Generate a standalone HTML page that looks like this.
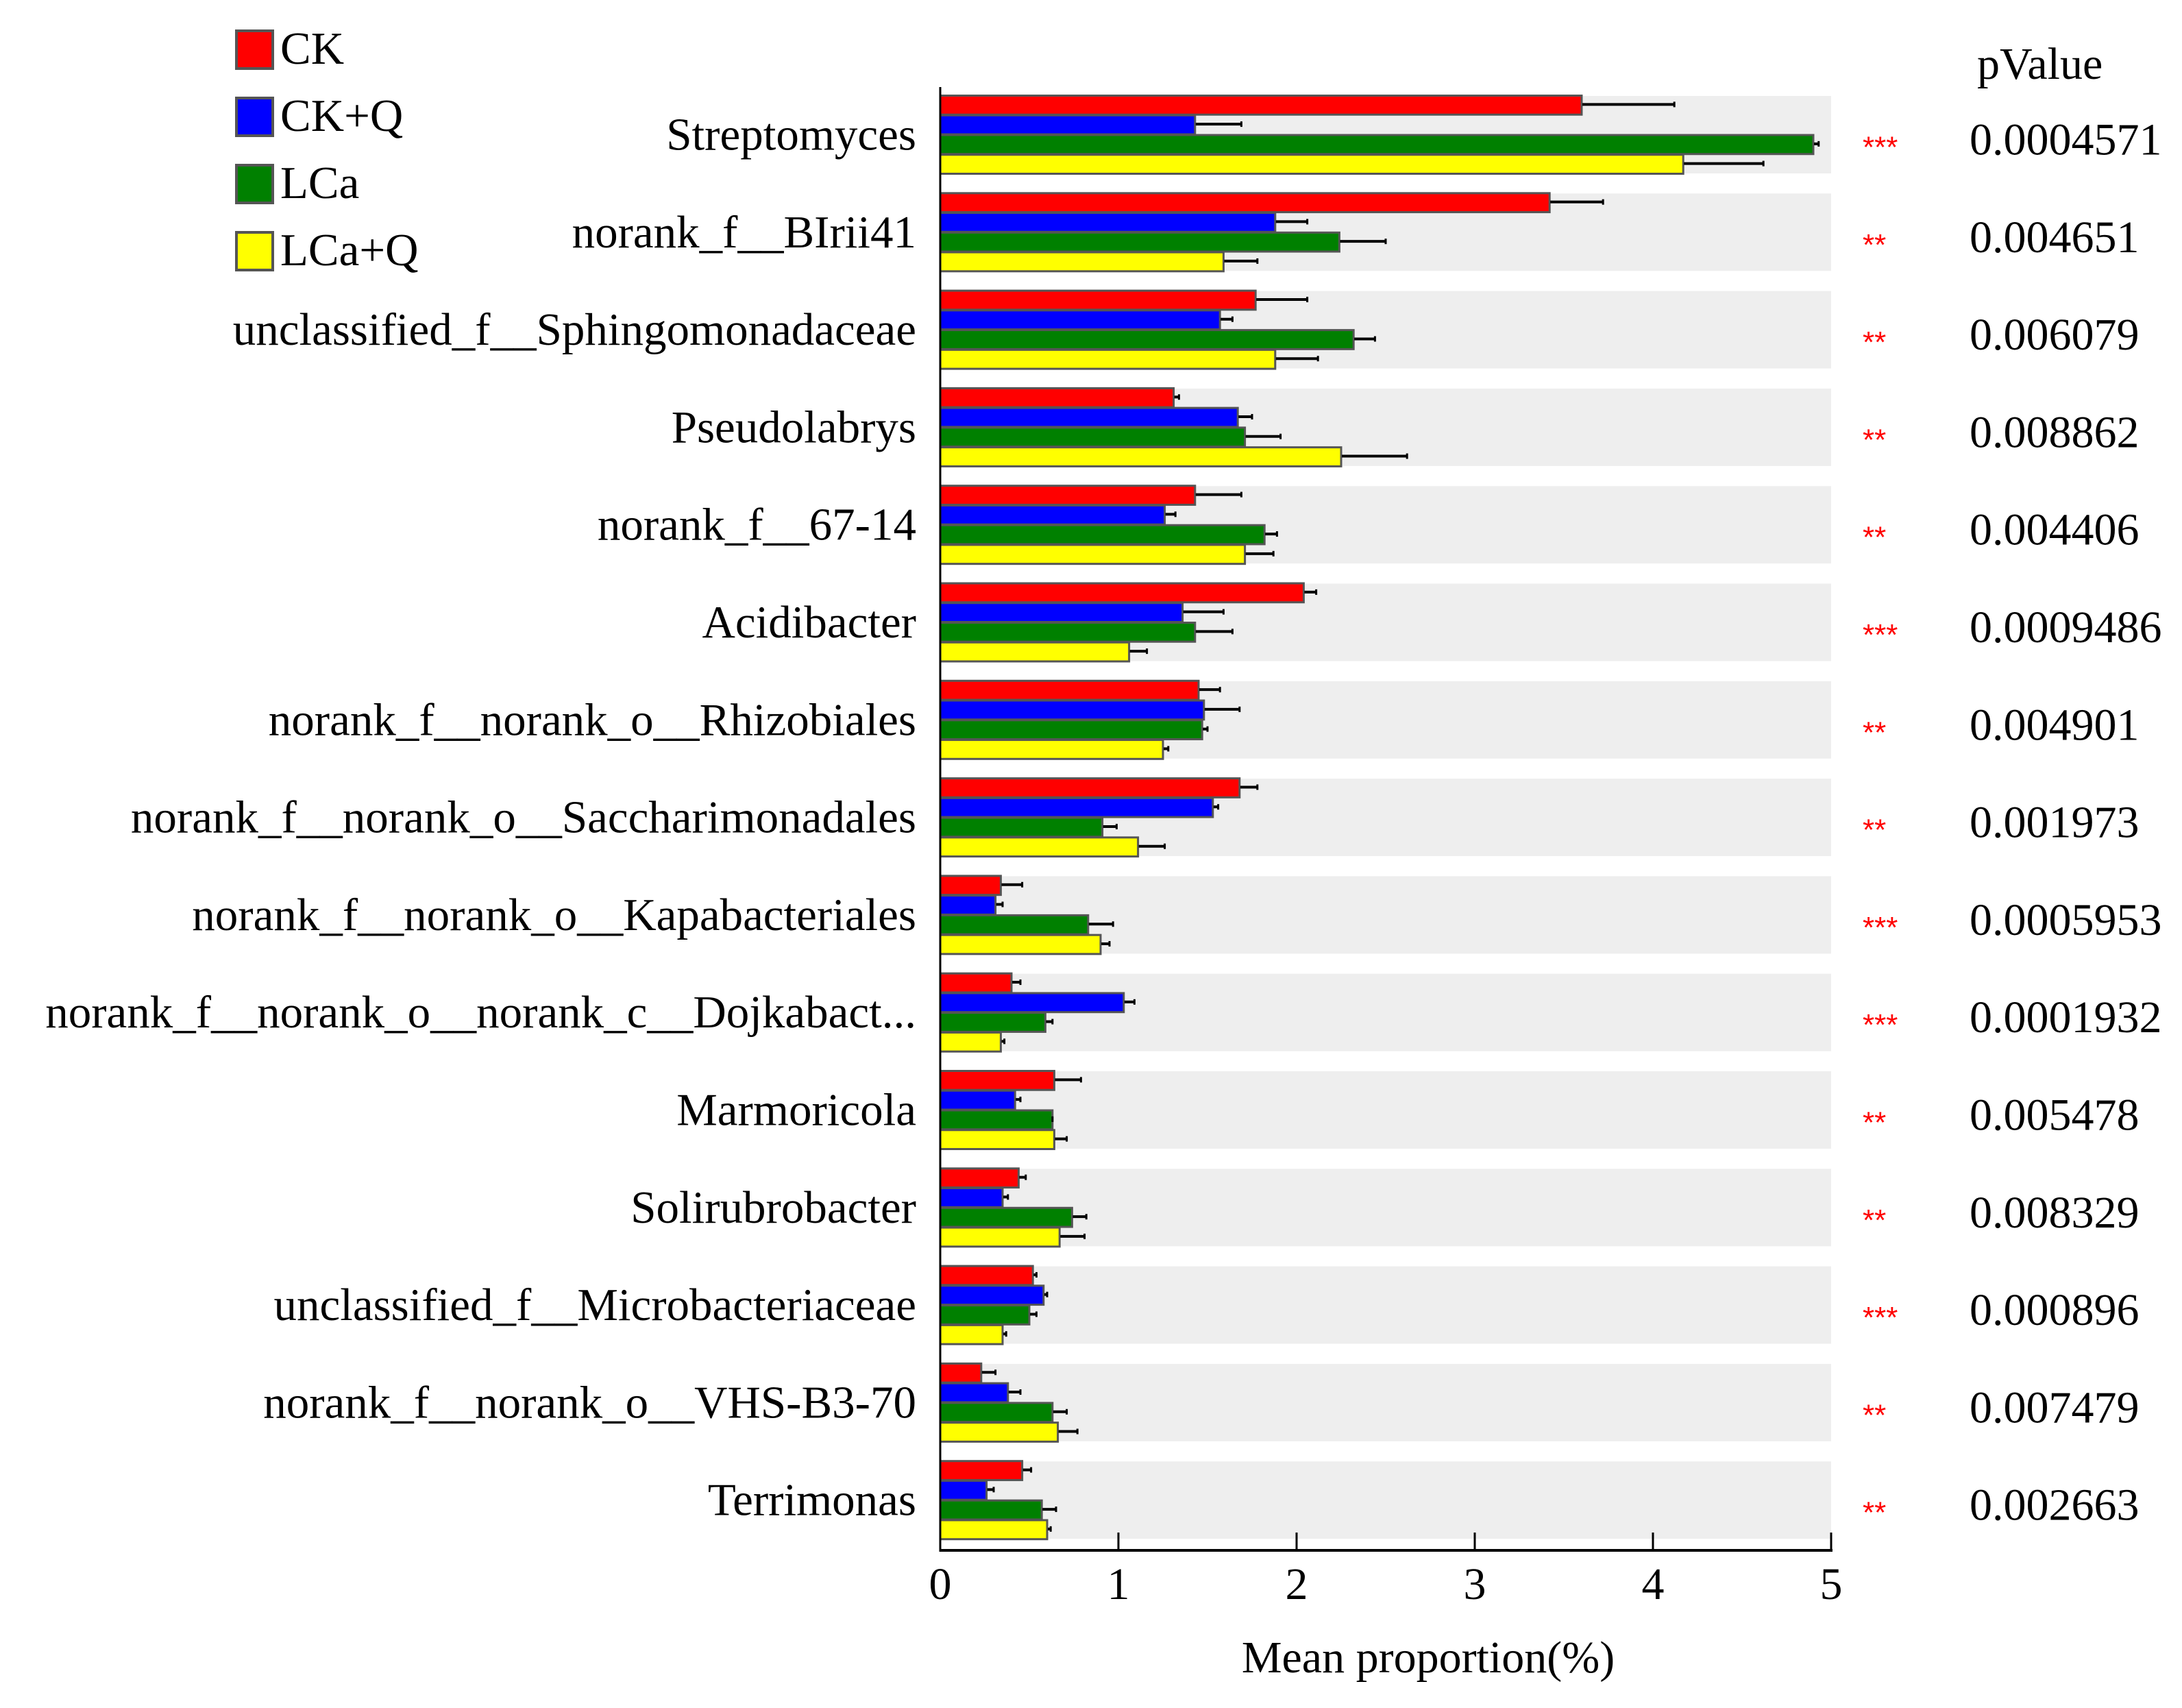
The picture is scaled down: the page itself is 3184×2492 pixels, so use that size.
<!DOCTYPE html>
<html><head><meta charset="utf-8"><style>
html,body{margin:0;padding:0;background:#fff;}
svg{display:block;font-family:"Liberation Serif",serif;}
</style></head><body>
<svg id="chart" width="3184" height="2492" viewBox="0 0 3184 2492" xmlns="http://www.w3.org/2000/svg">
<g id="bands"></g>
<g id="bars"></g>
<g id="labels"></g>
<g id="pvals"></g>
<g id="axis"></g>
<g id="legend"></g>
<text x="2885" y="115" font-size="66">pValue</text>
<text x="2084" y="2440" font-size="66" text-anchor="middle">Mean proportion(%)</text>
</svg>
<script>
const categories = ["Streptomyces","norank_f__BIrii41","unclassified_f__Sphingomonadaceae","Pseudolabrys","norank_f__67-14","Acidibacter","norank_f__norank_o__Rhizobiales","norank_f__norank_o__Saccharimonadales","norank_f__norank_o__Kapabacteriales","norank_f__norank_o__norank_c__Dojkabact...","Marmoricola","Solirubrobacter","unclassified_f__Microbacteriaceae","norank_f__norank_o__VHS-B3-70","Terrimonas"];
const seriesNames = ["CK","CK+Q","LCa","LCa+Q"];
const ck    = [3.60,3.42,1.77,1.31,1.43,2.04,1.45,1.68,0.34,0.40,0.64,0.44,0.52,0.23,0.46];
const ckErr = [4.12,3.72,2.06,1.34,1.69,2.11,1.57,1.78,0.46,0.45,0.79,0.48,0.54,0.31,0.51];
const ckq    = [1.43,1.88,1.57,1.67,1.26,1.36,1.48,1.53,0.31,1.03,0.42,0.35,0.58,0.38,0.26];
const ckqErr = [1.69,2.06,1.64,1.75,1.32,1.59,1.68,1.56,0.35,1.09,0.45,0.38,0.60,0.45,0.30];
const lca    = [4.90,2.24,2.32,1.71,1.82,1.43,1.47,0.91,0.83,0.59,0.63,0.74,0.50,0.63,0.57];
const lcaErr = [4.93,2.50,2.44,1.91,1.89,1.64,1.50,0.99,0.97,0.63,0.63,0.82,0.54,0.71,0.65];
const lcaq    = [4.17,1.59,1.88,2.25,1.71,1.06,1.25,1.11,0.90,0.34,0.64,0.67,0.35,0.66,0.60];
const lcaqErr = [4.62,1.78,2.12,2.62,1.87,1.16,1.28,1.26,0.95,0.36,0.71,0.81,0.37,0.77,0.62];
const pValues = ["0.0004571","0.004651","0.006079","0.008862","0.004406","0.0009486","0.004901","0.001973","0.0005953","0.0001932","0.005478","0.008329","0.000896","0.007479","0.002663"];
const stars = ["***","**","**","**","**","***","**","**","***","***","**","**","***","**","**"];
const xTicks = [0,1,2,3,4,5];

const colors = ["#ff0000","#0000ff","#008000","#ffff00"];
const NS = "http://www.w3.org/2000/svg";
const X0 = 1372, X1 = 2672, XMAX = 5;
const x = v => X0 + (v / XMAX) * (X1 - X0);
const Y0 = 140, PITCH = 142.3, BAND = 113, BARH = 28.75;
const y = i => Y0 + i * PITCH;
function mk(tag, attrs, parent) {
  const e = document.createElementNS(NS, tag);
  for (const k in attrs) e.setAttribute(k, attrs[k]);
  parent.appendChild(e);
  return e;
}
const gB = document.getElementById('bands'), gBars = document.getElementById('bars'),
      gL = document.getElementById('labels'), gP = document.getElementById('pvals'),
      gA = document.getElementById('axis'), gLg = document.getElementById('legend');
const vals = [ck, ckq, lca, lcaq], errs = [ckErr, ckqErr, lcaErr, lcaqErr];
const keys = ["ck","ckq","lca","lcaq"];
categories.forEach((c, i) => {
  const band = mk('rect', {x: X0, y: y(i), width: X1 - X0, height: BAND, fill: '#eeeeee'}, gB);
  
  
  for (let s = 0; s < 4; s++) {
    const by = y(i) - 2 + s * BARH;
    const r = mk('rect', {x: X0, y: by + 1.5, width: x(vals[s][i]) - X0, height: BARH - 1, fill: colors[s], stroke: '#555555', 'stroke-width': 3}, gBars);
    
    
    const cy = by + BARH / 2;
    const el = mk('line', {x1: x(vals[s][i]) + 1, x2: x(errs[s][i]), y1: cy, y2: cy, stroke: '#000', 'stroke-width': 4}, gBars);
    
    
    const cap = mk('line', {x1: x(errs[s][i]), x2: x(errs[s][i]), y1: cy - 4, y2: cy + 4, stroke: '#000', 'stroke-width': 3}, gBars);
    
    
  }
  const cy = y(i) + BAND / 2;
  const t = mk('text', {x: 1337, y: cy + 22, 'font-size': 67, 'text-anchor': 'end'}, gL);
  t.textContent = c;
  
  
  const st = mk('text', {x: 2718, y: cy + 33, 'font-size': 44, fill: '#ff0000', 'font-family': 'Liberation Sans, sans-serif'}, gP);
  st.textContent = stars[i];
  
  
  const pv = mk('text', {x: 2874, y: cy + 29, 'font-size': 66}, gP);
  pv.textContent = pValues[i];
  
  
});
const yAxis = mk('line', {x1: X0, x2: X0, y1: 127, y2: 2264, stroke: '#000', 'stroke-width': 3}, gA);


const xAxis = mk('line', {x1: X0 - 1, x2: X1 + 2, y1: 2262, y2: 2262, stroke: '#000', 'stroke-width': 4}, gA);


xTicks.forEach(v => {
  const tk = mk('line', {x1: x(v), x2: x(v), y1: 2236, y2: 2262, stroke: '#000', 'stroke-width': 3}, gA);
  
  
  const tl = mk('text', {x: x(v), y: 2333, 'font-size': 66, 'text-anchor': 'middle'}, gA);
  tl.textContent = String(v);
  
  
});
seriesNames.forEach((n, s) => {
  const ly = 45 + s * 98;
  const sw = mk('rect', {x: 345, y: ly, width: 53, height: 55, fill: colors[s], stroke: '#555555', 'stroke-width': 4}, gLg);
  
  
  const lt = mk('text', {x: 409, y: ly + 48, 'font-size': 67}, gLg);
  lt.textContent = n;
  
  
});
</script>
</body></html>
